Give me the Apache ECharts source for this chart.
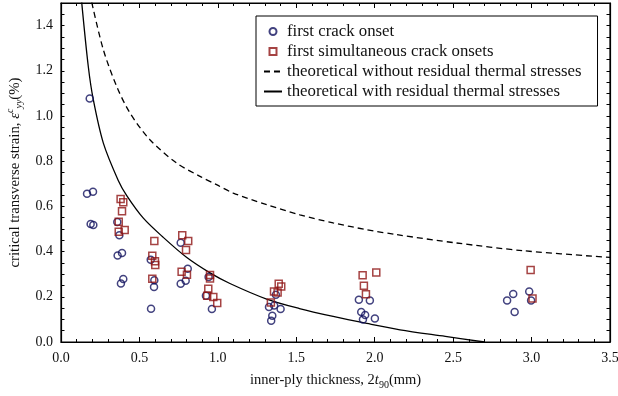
<!DOCTYPE html>
<html><head><meta charset="utf-8">
<script src="https://cdn.jsdelivr.net/npm/echarts@6/dist/echarts.min.js"></script>
<style>html,body{margin:0;padding:0;background:#fff}#c{width:618px;height:396px}</style>
</head><body><div id="c"></div>
<script>
// first crack onset (circles)
const onsetX = [0.183,0.166,0.204,0.189,0.206,0.359,0.372,0.361,0.389,0.382,0.397,
  0.572,0.595,0.593,0.574,0.763,0.808,0.763,0.795,0.941,0.924,0.962,
  1.370,1.326,1.359,1.400,1.347,1.340,1.899,1.969,1.914,1.939,1.925,2.001,
  2.844,2.883,2.985,2.997,2.892];
const onsetY = [1.077,0.656,0.665,0.522,0.518,0.531,0.472,0.383,0.394,0.259,0.279,
  0.364,0.273,0.243,0.147,0.439,0.324,0.258,0.271,0.288,0.205,0.146,
  0.209,0.155,0.162,0.146,0.116,0.094,0.187,0.184,0.133,0.119,0.100,0.104,
  0.184,0.212,0.223,0.184,0.133];
// first simultaneous crack onsets (squares)
const simulX = [0.380,0.397,0.389,0.368,0.368,0.406,0.595,0.582,0.599,0.601,0.582,
  0.773,0.811,0.797,0.769,0.803,0.950,0.950,0.939,0.932,0.971,0.996,
  1.388,1.404,1.358,1.381,1.338,1.923,2.010,1.931,1.944,2.994,3.006];
const simulY = [0.633,0.618,0.578,0.532,0.488,0.496,0.447,0.382,0.357,0.341,0.280,
  0.472,0.447,0.407,0.311,0.298,0.296,0.281,0.236,0.205,0.199,0.173,
  0.258,0.246,0.223,0.219,0.175,0.295,0.308,0.249,0.211,0.319,0.192];
// theoretical without residual thermal stresses (dashed)
const noResX = [0.196,0.270,0.355,0.440,0.567,0.737,0.886,0.992,1.098,1.311,1.523,1.735,1.948,2.140,2.522,2.946,3.500];
const noResY = [1.503,1.293,1.131,1.013,0.895,0.792,0.733,0.696,0.659,0.608,0.563,0.527,0.497,0.475,0.438,0.404,0.374];
// theoretical with residual thermal stresses (solid)
const withResX = [0.132,0.174,0.206,0.270,0.365,0.419,0.525,0.652,0.800,0.950,1.077,1.311,1.520,1.735,1.950,2.161,2.450,2.700];
const withResY = [1.503,1.219,1.072,0.880,0.715,0.648,0.548,0.463,0.375,0.306,0.259,0.190,0.148,0.113,0.082,0.054,0.025,0.000];
const legendNames = ['first crack onset','first simultaneous crack onsets',
  'theoretical without residual thermal stresses','theoretical with residual thermal stresses'];

const zip = (a,b)=>a.map((v,i)=>[v,b[i]]);
const FONT = 'Liberation Serif';
const NAVY = '#13135f', DRED = '#8e1414';
const chart = echarts.init(document.getElementById('c'));
const isMajorY = v => Math.abs(v/0.2 - Math.round(v/0.2)) < 1e-6 && v < 1.45;
const baseX = {type:'value',min:0,max:3.5,interval:0.5,splitLine:{show:false},
  axisLine:{show:true,onZero:false,lineStyle:{color:'#000',width:1.2}},
  axisTick:{show:true,inside:true,length:5,lineStyle:{color:'#000',width:1}},
  minorTick:{show:true,splitNumber:5,length:3,lineStyle:{color:'#000',width:1}}};
const baseY = {type:'value',min:0,max:1.5,interval:0.05,splitLine:{show:false},
  axisLine:{show:true,onZero:false,lineStyle:{color:'#000',width:1.2}},
  axisTick:{show:true,inside:true,length:3.5,lineStyle:{color:'#000',width:1}}};
function richSet(fs){
  const s = Math.round(fs*0.7);
  return {
    n:{fontFamily:FONT,fontSize:fs,color:'#111',lineHeight:19},
    it:{fontFamily:FONT,fontSize:fs,fontStyle:'italic',color:'#111',lineHeight:19},
    sub:{fontFamily:FONT,fontSize:s,fontStyle:'italic',color:'#111',verticalAlign:'bottom',lineHeight:s+1},
    subn:{fontFamily:FONT,fontSize:s,color:'#111',verticalAlign:'bottom',lineHeight:s+1},
    sup:{fontFamily:FONT,fontSize:s,fontStyle:'italic',color:'#111',verticalAlign:'top',lineHeight:s}
  };
}
const hidden = {color:'rgba(0,0,0,0)',borderColor:'rgba(0,0,0,0)',borderWidth:0};
chart.setOption({
  animation:false,
  backgroundColor:'#fff',
  grid:{left:61,right:8,top:3,bottom:54,containLabel:false,outerBoundsMode:'none',show:true,
    borderColor:'#000',borderWidth:1.2,backgroundColor:'rgba(0,0,0,0)'},
  legend:{data:[
      {name:legendNames[0]},
      {name:legendNames[1],icon:'path://M0,0h10v10h-10z'},
      {name:legendNames[2],itemStyle:hidden},
      {name:legendNames[3],itemStyle:hidden}],
    orient:'vertical',left:256,top:16,symbolKeepAspect:true,
    borderColor:'#000',borderWidth:1,borderRadius:0,
    padding:[7,16,6,7],itemGap:3,itemWidth:18,itemHeight:7,
    textStyle:{fontFamily:FONT,fontSize:16.8,color:'#111'}},
  xAxis:[
    Object.assign({},baseX,{position:'bottom',
      axisLabel:{show:true,margin:9,fontFamily:FONT,fontSize:14,color:'#111',formatter:v=>v.toFixed(1)},
      name:'{n|inner-ply thickness, 2}{it|t}{subn|90}{n|(mm)}',nameLocation:'middle',nameGap:29,
      nameTextStyle:{rich:richSet(14.5)}}),
    Object.assign({},baseX,{position:'top',axisLabel:{show:false}})
  ],
  yAxis:[
    Object.assign({},baseY,{position:'left',
      axisLabel:{show:true,margin:8,fontFamily:FONT,fontSize:14,color:'#111',
        interval:(i,v)=>isMajorY(+v),
        formatter:v=>(isMajorY(v)?v.toFixed(1):'')},
      name:'{n|critical transverse strain, }{it|ε}{sup|c}{sub|yy}{n|(%)}',nameLocation:'middle',nameGap:34,
      nameTextStyle:{rich:richSet(14.8)}}),
    Object.assign({},baseY,{position:'right',axisLabel:{show:false}})
  ],
  series:[
    {name:legendNames[0],type:'scatter',data:zip(onsetX,onsetY),symbol:'circle',symbolSize:7,z:5,
      itemStyle:{color:'rgba(255,255,255,0)',borderColor:NAVY,borderWidth:1.5}},
    {name:legendNames[1],type:'scatter',data:zip(simulX,simulY),symbol:'rect',symbolSize:7,z:6,
      itemStyle:{color:'rgba(255,255,255,0)',borderColor:DRED,borderWidth:1.5}},
    {name:legendNames[2],type:'line',data:zip(noResX,noResY),smooth:0.3,symbol:'none',z:3,
      lineStyle:{color:'#000',width:1.3,type:[6,4]},itemStyle:{color:'#000'}},
    {name:legendNames[3],type:'line',data:zip(withResX,withResY),smooth:0.3,symbol:'none',z:3,
      lineStyle:{color:'#000',width:1.3},itemStyle:{color:'#000'}},
    {type:'line',xAxisIndex:1,yAxisIndex:1,data:[],silent:true}
  ]
});
</script></body></html>
